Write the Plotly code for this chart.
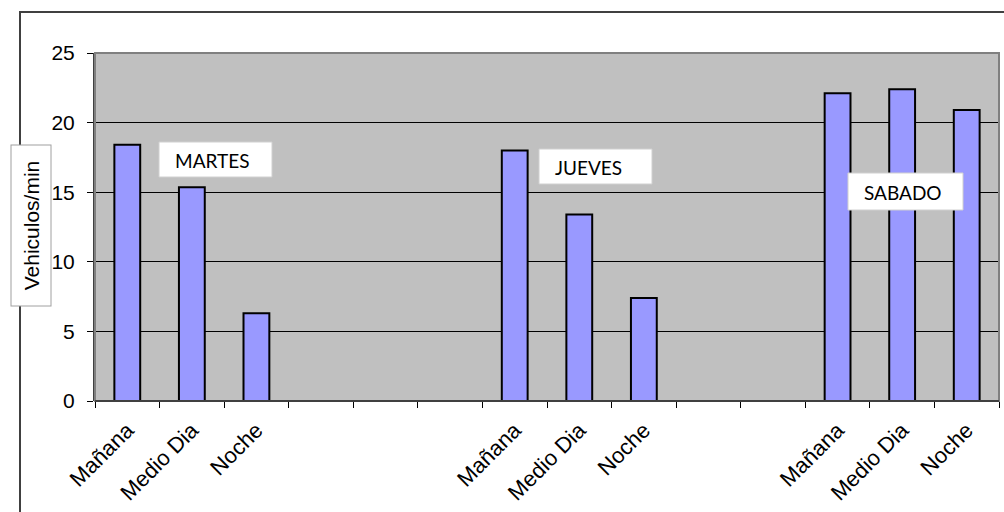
import plotly.graph_objects as go

categories = ["Mañana", "Medio Dia", "Noche", "", "", "",
              "Mañana", "Medio Dia", "Noche", "", "",
              "Mañana", "Medio Dia", "Noche"]
values = [18.4, 15.35, 6.3, None, None, None,
          18.0, 13.4, 7.4, None, None,
          22.1, 22.4, 20.9]
day_labels = ["MARTES", "JUEVES", "SABADO"]
y_ticks = [0, 5, 10, 15, 20, 25]

xpos = list(range(len(categories)))
bx = [x for x, v in zip(xpos, values) if v is not None]
by = [v for v in values if v is not None]

W, H = 1004, 512
L, R, T, B = 95, 5, 53, 111
pw, ph = W - L - R, H - T - B

def px(xp):
    return (xp - L) / pw

def py(yp):
    return 1 - (yp - T) / ph

fig = go.Figure()
fig.add_trace(go.Bar(
    x=bx, y=by, width=0.4,
    marker=dict(color="#9999FF", line=dict(color="#000000", width=2)),
    showlegend=False,
))

font_axis = "Liberation Sans, Arial, sans-serif"
font_box = "Lato, Open Sans, sans-serif"

fig.update_layout(
    width=W, height=H,
    margin=dict(l=L, r=R, t=T, b=B),
    paper_bgcolor="white",
    plot_bgcolor="#C0C0C0",
    xaxis=dict(
        range=[-0.5, len(categories) - 0.5],
        tickmode="array",
        tickvals=xpos,
        ticktext=categories,
        tickangle=-45,
        ticks="",
        showgrid=False,
        zeroline=False,
        showline=False,
        tickfont=dict(family=font_axis, size=22, color="black"),
        ticklabelstandoff=11,
        minor=dict(
            tickmode="array",
            tickvals=[i - 0.5 for i in range(len(categories) + 1)],
            ticks="outside", ticklen=6, tickcolor="#000000", tickwidth=1,
            showgrid=False,
        ),
    ),
    yaxis=dict(
        range=[0, 25],
        tickvals=y_ticks,
        ticks="outside", ticklen=6, tickcolor="#000000",
        showgrid=True, gridcolor="#000000", gridwidth=1,
        zeroline=False,
        showline=True, linecolor="#404040", linewidth=2,
        tickfont=dict(family=font_axis, size=21, color="black"),
        ticklabelstandoff=8,
    ),
    font=dict(family=font_axis, color="black"),
)

# plot area border (top & right)
fig.add_shape(type="rect", xref="paper", yref="paper", x0=0, x1=1, y0=0, y1=1,
              line=dict(color="#808080", width=2), fillcolor="rgba(0,0,0,0)", layer="above")
# x axis base line
fig.add_shape(type="line", xref="paper", yref="paper", x0=0, x1=1, y0=0, y1=0,
              line=dict(color="#000000", width=1), layer="above")
# outer chart border
fig.add_shape(type="rect", xref="paper", yref="paper",
              x0=px(20), x1=px(1010), y0=py(520), y1=py(12),
              line=dict(color="#404040", width=2), fillcolor="rgba(0,0,0,0)")

# day label boxes
boxes = [(159, 272, 142, 177), (539, 652, 149, 184), (848, 963, 173, 210)]
for (x0, x1, y0, y1), lab in zip(boxes, day_labels):
    fig.add_shape(type="rect", xref="paper", yref="paper",
                  x0=px(x0), x1=px(x1), y0=py(y1), y1=py(y0),
                  line=dict(color="#D0D0D0", width=1), fillcolor="white", layer="above")
    fig.add_annotation(xref="paper", yref="paper", x=px(x0 + 14), y=py((y0 + y1) / 2 + 1),
                       text=lab, showarrow=False, xanchor="left", yanchor="middle",
                       font=dict(family=font_box, size=19, color="black"))

# y axis title box
fig.add_annotation(xref="paper", yref="paper", x=px(30.5), y=py(226),
                   text="Vehiculos/min", textangle=-90, showarrow=False,
                   xanchor="center", yanchor="middle",
                   font=dict(family=font_axis, size=21, color="black"),
                   bgcolor="white", bordercolor="#A0A0A0", borderwidth=1,
                   width=154, height=33, borderpad=3)

fig.write_html("out.html")
